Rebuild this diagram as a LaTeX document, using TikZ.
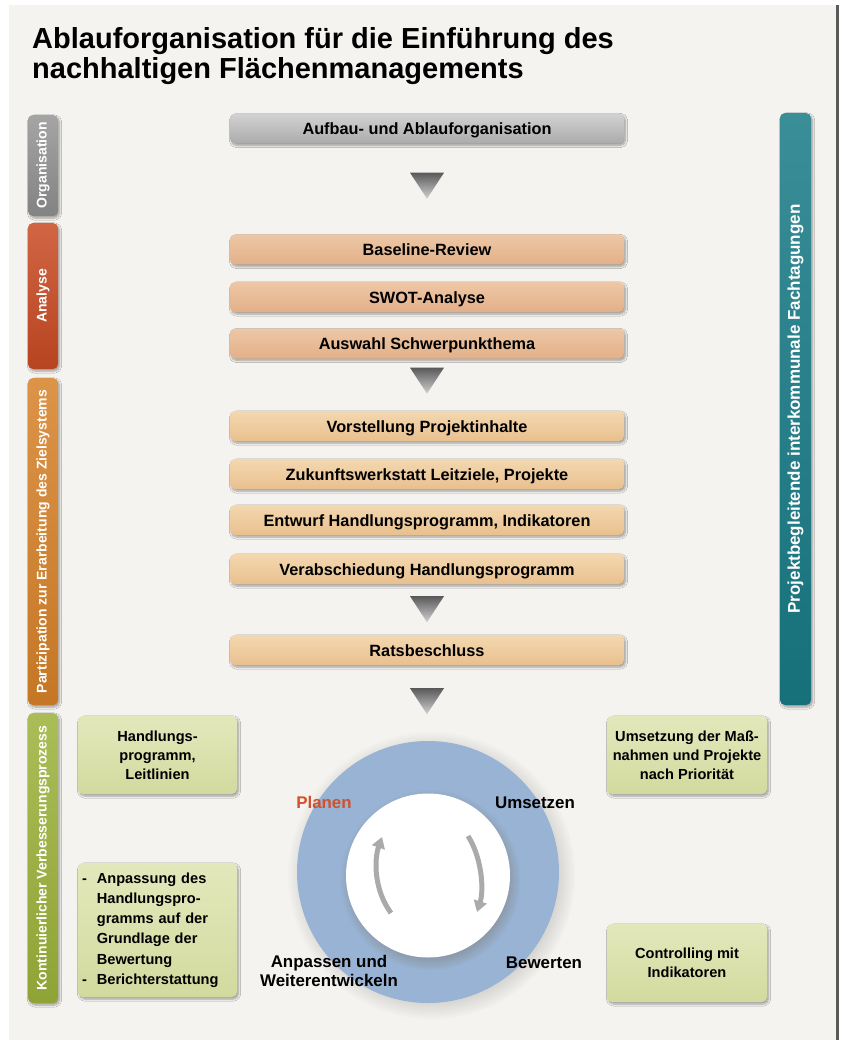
\documentclass[tikz,border=0pt]{standalone}
\usepackage{fontspec}
\setmainfont{Liberation Sans}
\usetikzlibrary{shadows,shadows.blur,arrows.meta,calc}
\definecolor{bgc}{HTML}{F4F3EF}
\definecolor{framec}{HTML}{5A5A5A}
\definecolor{grayT}{HTML}{D2D2D2}
\definecolor{grayB}{HTML}{ABABAB}
\definecolor{salT}{HTML}{EEC7A6}
\definecolor{salB}{HTML}{E2B089}
\definecolor{peaT}{HTML}{F4D8B0}
\definecolor{peaB}{HTML}{E9C08F}
\definecolor{grnT}{HTML}{E3E8BC}
\definecolor{grnB}{HTML}{D2DA9E}
\definecolor{barOrg}{HTML}{8E8E8E}
\definecolor{barAna}{HTML}{C84A23}
\definecolor{barPar}{HTML}{D68128}
\definecolor{barKon}{HTML}{9CB13A}
\definecolor{barPro}{HTML}{177A85}
\definecolor{ringc}{HTML}{98B3D3}
\definecolor{arrc}{HTML}{AAAAAA}
\definecolor{planc}{HTML}{D2502A}
\begin{document}
\begin{tikzpicture}[x=1pt,y=-1pt,
  softshadow/.style={blur shadow={shadow xshift=1.5pt,shadow yshift=-2pt,shadow blur steps=6,shadow opacity=35}},
  mainbox/.style={rounded corners=5pt,minimum width=394pt,minimum height=30pt,inner sep=0pt,
    text height=12pt,text depth=0pt,
    font=\bfseries\fontsize{16.3}{18}\selectfont,text=black,softshadow},
  graybox/.style={mainbox,top color=grayT,bottom color=grayB},
  salbox/.style={mainbox,top color=salT,bottom color=salB},
  peabox/.style={mainbox,top color=peaT,bottom color=peaB},
  sidebar/.style={rounded corners=5pt,minimum height=30pt,inner sep=0pt,rotate=90,
    font=\bfseries\fontsize{14}{16}\selectfont,text=white,softshadow},
  grnbox/.style={rounded corners=5pt,minimum height=78pt,inner sep=0pt,align=center,
    top color=grnT,bottom color=grnB,font=\bfseries\fontsize{14.6}{18.8}\selectfont,text=black,softshadow},
  cyclelabel/.style={font=\bfseries\fontsize{16.9}{19.5}\selectfont,text=black,align=center},
  downtri/.style={top color=black!65,bottom color=black!18},
  cyc/.style={draw=arrc,line width=5pt,-{Triangle[width=13pt,length=11pt]}}
]
\useasboundingbox (0,0) rectangle (841,1040);
\fill[white] (0,0) rectangle (841,1040);
\fill[bgc] (9,5) rectangle (836,1040);
\fill[framec] (836,5) rectangle (839,1040);

% title
\node[anchor=base west,inner sep=0pt,font=\bfseries\fontsize{29}{30}\selectfont] (title1) at (32,48.5)
  {Ablauforganisation für die Einführung des};
\node[anchor=base west,inner sep=0pt,font=\bfseries\fontsize{29}{30}\selectfont] (title2) at (32,79)
  {nachhaltigen Flächenmanagements};

% side bars
\node[sidebar,minimum width=101pt,top color=barOrg!80!white,bottom color=barOrg!92!black] (org) at (43,165.5) {Organisation};
\node[sidebar,minimum width=146pt,top color=barAna!85!white,bottom color=barAna!92!black] (ana) at (43,296) {Analyse};
\node[sidebar,minimum width=327pt,top color=barPar!85!white,bottom color=barPar!92!black] (par) at (43,541.5) {Partizipation zur Erarbeitung des Zielsystems};
\node[sidebar,minimum width=290pt,top color=barKon!85!white,bottom color=barKon!92!black] (kon) at (43,858) {Kontinuierlicher Verbesserungsprozess};
\node[sidebar,minimum width=592pt,minimum height=31pt,font=\bfseries\fontsize{17}{18}\selectfont,
  top color=barPro!85!white,bottom color=barPro!92!black] (pro) at (795.5,409) {Projektbegleitende interkommunale Fachtagungen};

% main column
\node[graybox] (aufbau) at (427,128.5) {Aufbau- und Ablauforganisation};
\node[salbox] (baseline) at (427,249.5) {Baseline-Review};
\node[salbox] (swot) at (427,297) {SWOT-Analyse};
\node[salbox] (auswahl) at (427,343.5) {Auswahl Schwerpunkthema};
\node[peabox] (vorst) at (427,426) {Vorstellung Projektinhalte};
\node[peabox] (zukunft) at (427,474) {Zukunftswerkstatt Leitziele, Projekte};
\node[peabox] (entwurf) at (427,520) {Entwurf Handlungsprogramm, Indikatoren};
\node[peabox] (verab) at (427,569) {Verabschiedung Handlungsprogramm};
\node[peabox] (rats) at (427,650) {Ratsbeschluss};

% down triangles (connectors)
\coordinate (t1) at ($(aufbau.south)+(0,29)$);
\coordinate (t2) at ($(auswahl.south)+(0,9)$);
\coordinate (t3) at ($(verab.south)+(0,12)$);
\coordinate (t4) at ($(rats.south)+(0,23)$);
\foreach \t in {t1,t2,t3,t4}{
  \shade[downtri] ($(\t)+(-17,0)$) -- ($(\t)+(17,0)$) -- ($(\t)+(0,26)$) -- cycle;
}

% cycle
\node[circle,minimum size=262pt,inner sep=0pt,fill=ringc,
  circular drop shadow={shadow xshift=3pt,shadow yshift=-3pt,opacity=0.3}] (ring) at (428,872) {};
\node[circle,minimum size=164pt,inner sep=0pt,fill=white,
  circular drop shadow={shadow xshift=2pt,shadow yshift=-4pt,opacity=0.5}] (inner) at (428,875.5) {};
\coordinate (la) at (391,913);
\coordinate (lb) at (382,837);
\coordinate (ra) at (468,836);
\coordinate (rb) at (477,912);
\draw[cyc] (la) .. controls (374,890) and (374,860) .. (lb);
\draw[cyc] (ra) .. controls (482,858) and (484,890) .. (rb);

\node[cyclelabel,text=planc] (planen) at (324,802) {Planen};
\node[cyclelabel] (umsetzen) at (535,803) {Umsetzen};
\node[cyclelabel] (bewerten) at (544,963) {Bewerten};
\node[cyclelabel] (anpassen) at (329,971) {Anpassen und\\Weiterentwickeln};

% green boxes
\node[grnbox,minimum width=159pt] (gl1) at (157.5,755) {Handlungs-\\programm,\\Leitlinien};
\node[grnbox,minimum width=159pt,minimum height=134pt,text width=151pt,align=left,inner xsep=4pt] (gl2) at (157.5,930)
  {\begin{tabular}{@{}l@{\hspace{10pt}}l@{}}
  - & Anpassung des\\[1.5pt]
    & Handlungspro-\\[1.5pt]
    & gramms auf der\\[1.5pt]
    & Grundlage der\\[1.5pt]
    & Bewertung\\[1.5pt]
  - & Berichterstattung
  \end{tabular}};
\node[grnbox,minimum width=160pt] (gr1) at (687,755) {Umsetzung der Maß-\\nahmen und Projekte\\nach Priorität};
\node[grnbox,minimum width=160pt] (gr2) at (687,963) {Controlling mit\\Indikatoren};
\end{tikzpicture}
\end{document}
